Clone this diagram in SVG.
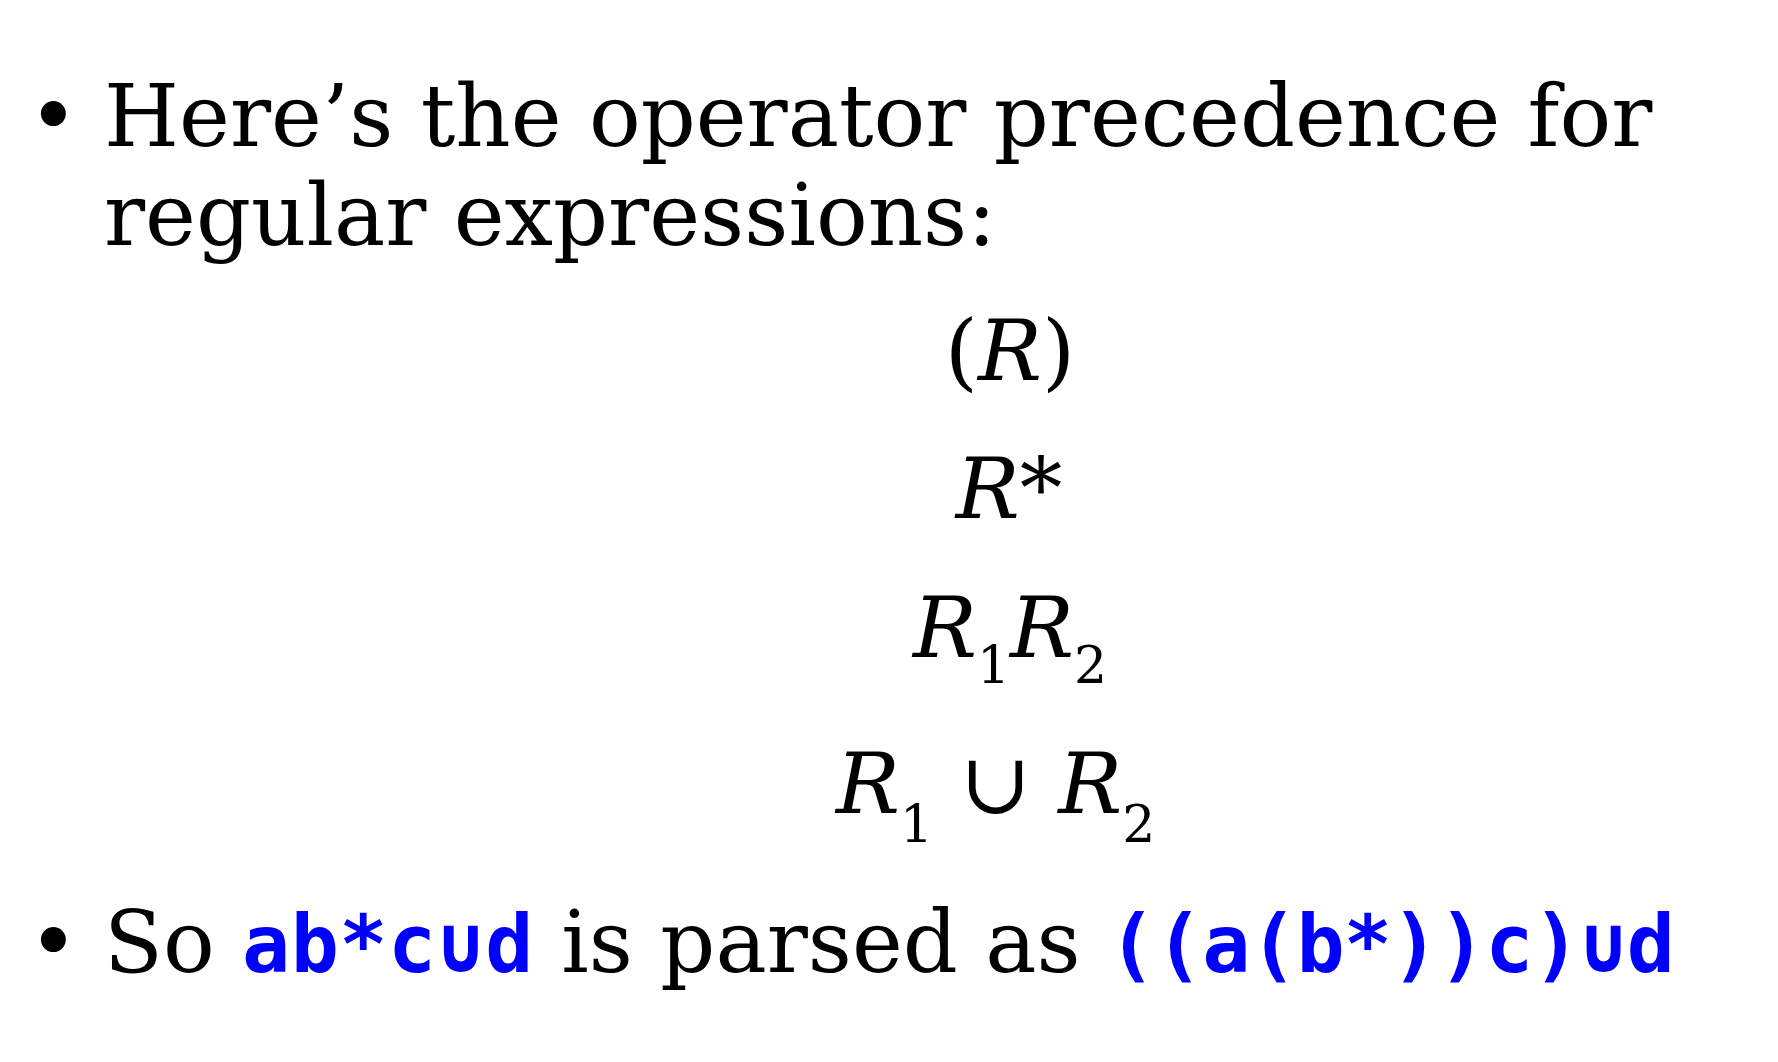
<svg xmlns="http://www.w3.org/2000/svg" width="1778" height="1062" viewBox="0 0 1778 1062">
<style>
.t{font-family:"DejaVu Serif",serif;font-size:86px;fill:#000}
.m{font-family:"DejaVu Serif",serif;font-size:85px;fill:#000}
.i{font-style:italic}
.s{font-size:52px}
.c{font-family:"DejaVu Sans Mono",monospace;font-weight:bold;font-size:80px;letter-spacing:0.5px;fill:#0000ff}
.c2{letter-spacing:-1px}
</style>
<rect width="1778" height="1062" fill="#fff"/>
<g id="bullet1">
<text class="t" x="28" y="146">•</text>
<text class="t" x="104" y="146">Here’s the operator precedence for</text>
<text class="t" x="104" y="245">regular expressions:</text>
</g>
<g id="prec">
<text class="m" x="1010" y="380" text-anchor="middle">(<tspan class="i">R</tspan>)</text>
<text class="m i" x="1009" y="518" text-anchor="middle">R*</text>
<text class="m" x="913" y="657"><tspan class="i">R</tspan><tspan class="s" dy="26">1</tspan><tspan class="i" dy="-26">R</tspan><tspan class="s" dy="26">2</tspan></text>
<text class="m" x="836" y="813"><tspan class="i">R</tspan><tspan class="s" dy="29">1</tspan><tspan dy="-29"> ∪ </tspan><tspan class="i">R</tspan><tspan class="s" dy="29">2</tspan></text>
</g>
<g id="bullet2">
<text class="t" x="28" y="972">•</text>
<text class="t" x="104" y="972">So <tspan class="c">ab*c∪d</tspan> is parsed as <tspan class="c c2">((a(b*))c)∪d</tspan></text>
</g>
</svg>
